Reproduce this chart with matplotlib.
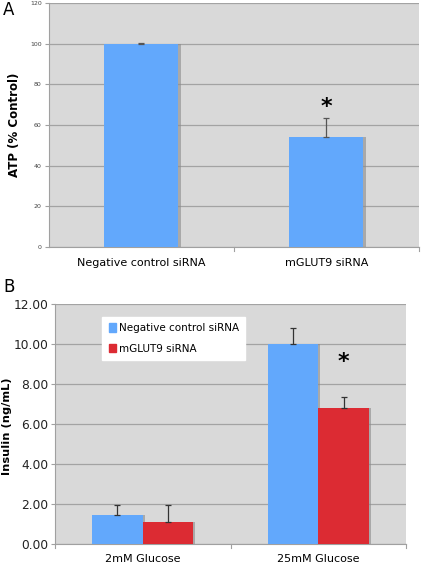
import matplotlib
matplotlib.use("Agg")
import matplotlib.pyplot as plt
import numpy as np

# Panel A data
atp_groups = ["Negative control siRNA", "mGLUT9 siRNA"]
atp_values = [100, 54]
atp_errors = [0.3, 9.5]
atp_ticks = [0, 20, 40, 60, 80, 100, 120]

# Panel B data
ins_groups = ["2mM Glucose", "25mM Glucose"]
ins_series = ["Negative control siRNA", "mGLUT9 siRNA"]
ins_neg = [1.45, 10.0]
ins_neg_err = [0.5, 0.82]
ins_glut = [1.08, 6.82]
ins_glut_err = [0.85, 0.55]
ins_ticks = [0, 2, 4, 6, 8, 10, 12]

blue = "#62a8fc"
red = "#dc2b33"
bg = "#d9d9d9"
grid = "#a3a3a3"

plt.rcParams['font.family'] = ['DejaVu Sans']

W, H = 421, 565
fig = plt.figure(figsize=(W / 100, H / 100), dpi=100)


def px_axes(l, t, r, b):
    return fig.add_axes([l / W, 1 - b / H, (r - l) / W, (b - t) / H])


def style(ax):
    ax.set_facecolor(bg)
    ax.grid(axis="y", color=grid, lw=0.9)
    ax.set_axisbelow(True)
    for s in ["top", "right"]:
        ax.spines[s].set_visible(False)
    ax.spines["left"].set_color("#a0a0a0")
    ax.spines["bottom"].set_color("#a0a0a0")
    ax.tick_params(axis="y", length=3, color="#a0a0a0", pad=2)
    ax.tick_params(axis="x", length=0, pad=8)


def shadow_bars(ax, x, vals, w, color):
    ax.bar(np.array(x) + 0.012, vals, w, color="#8a8a8a", alpha=0.6, zorder=2)
    ax.bar(x, vals, w, color=color, zorder=3)


# ---- Panel A ----
axA = px_axes(48.7, 3, 419, 247)
style(axA)
xa = np.arange(len(atp_groups))
shadow_bars(axA, xa, atp_values, 0.4, blue)
axA.errorbar(xa, atp_values, yerr=[[0, 0], atp_errors], fmt="none",
             ecolor="#555555", elinewidth=0.9, capsize=2.5, capthick=0.9, zorder=4)
axA.set_xlim(-0.5, 1.5)
axA.set_ylim(0, 120)
axA.set_yticks(atp_ticks)
axA.set_yticklabels([str(t) for t in atp_ticks], fontsize=4.5, color="#444444")
axA.set_xticks(xa)
axA.set_xticklabels(atp_groups, fontsize=8)
fig.text(15 / W, 1 - 125 / H, "ATP (% Control)", rotation=90, fontsize=8.5,
         fontweight="bold", ha="center", va="center")
axA.text(1, 69, "*", ha="center", va="center", fontsize=16, fontweight="bold")
for xv in [0.5, 1.5]:
    axA.plot([xv, xv], [0, -1.8], color="#a0a0a0", lw=0.8, clip_on=False)
fig.text(3 / W, 1 - 10 / H, "A", fontsize=12, va="center", ha="left")

# ---- Panel B ----
axB = px_axes(55, 304.3, 406, 544)
style(axB)
xb = np.arange(len(ins_groups))
bw = 0.288
shadow_bars(axB, xb - bw / 2, ins_neg, bw, blue)
shadow_bars(axB, xb + bw / 2, ins_glut, bw, red)
axB.errorbar(xb - bw / 2, ins_neg, yerr=[[0, 0], ins_neg_err], fmt="none",
             ecolor="#333333", elinewidth=0.9, capsize=2.5, capthick=0.9, zorder=4)
axB.errorbar(xb + bw / 2, ins_glut, yerr=[[0, 0], ins_glut_err], fmt="none",
             ecolor="#333333", elinewidth=0.9, capsize=2.5, capthick=0.9, zorder=4)
axB.set_xlim(-0.5, 1.5)
axB.set_ylim(0, 12)
axB.set_yticks(ins_ticks)
axB.set_yticklabels([f"{t:.2f}" for t in ins_ticks], fontsize=8.8, color="#222222")
axB.set_xticks(xb)
axB.set_xticklabels(ins_groups, fontsize=8)
axB.tick_params(axis="x", pad=7)
fig.text(7 / W, 1 - 426 / H, "Insulin (ng/mL)", rotation=90, fontsize=8.2,
         fontweight="bold", ha="center", va="center")
axB.text(1 + bw / 2, 9.1, "*", ha="center", va="center", fontsize=16, fontweight="bold")
for xv in [-0.5, 0.5, 1.5]:
    axB.plot([xv, xv], [0, -0.18], color="#a0a0a0", lw=0.8, clip_on=False)
leg = axB.legend(
    handles=[plt.Rectangle((0, 0), 1, 1, color=blue), plt.Rectangle((0, 0), 1, 1, color=red)],
    labels=ins_series, loc="upper left", bbox_to_anchor=(0.135, 0.947),
    fontsize=7.5, frameon=True, fancybox=False, handlelength=0.7, handleheight=0.9,
    handletextpad=0.3, labelspacing=1.0, borderpad=0.6, borderaxespad=0)
leg.get_frame().set_facecolor("white")
leg.get_frame().set_edgecolor("white")
leg.get_frame().set_alpha(1)
fig.text(3 / W, 1 - 287 / H, "B", fontsize=12, va="center", ha="left")

fig.savefig("out.png", dpi=100)
